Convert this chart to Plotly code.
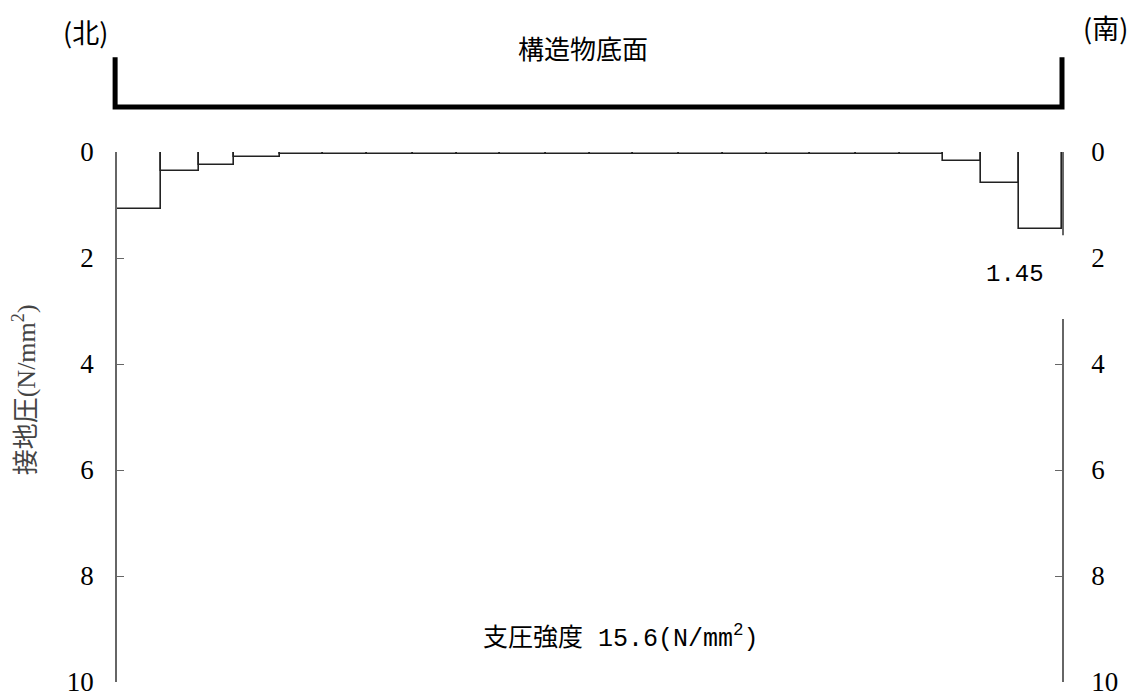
import plotly.graph_objects as go

# segment edges along the base of the structure (m, north -> south)
edges_x = [0.0, 1.0, 1.86, 2.66, 3.7, 4.68, 5.68, 6.73, 7.73, 8.7, 9.75, 10.75,
           11.73, 12.77, 13.77, 14.77, 15.75, 16.8, 17.8, 18.77, 19.64, 20.5, 21.48]
# contact pressure per segment (N/mm2)
pressure = [1.07, 0.36, 0.25, 0.10,
            0.03, 0.03, 0.03, 0.03, 0.03, 0.03, 0.03, 0.03, 0.03, 0.03, 0.03,
            0.03, 0.03, 0.03, 0.03,
            0.17, 0.59, 1.45]
y_ticks = [0, 2, 4, 6, 8, 10]
max_label = "1.45"
bearing_text = "支圧強度 15.6(N/mm<sup>2</sup>)"

centers = [(a + b) / 2 for a, b in zip(edges_x[:-1], edges_x[1:])]
widths = [b - a for a, b in zip(edges_x[:-1], edges_x[1:])]

INK = "#222222"
AXIS = "#666666"
CJK = "Noto Sans CJK JP"
SERIF = "Liberation Serif, Noto Sans CJK JP"
MONO = "Liberation Mono, Noto Sans CJK JP"

fig = go.Figure()
fig.add_trace(go.Bar(
    x=centers, y=pressure, width=widths, base=0,
    marker=dict(color="white", line=dict(color=INK, width=1.6)),
    showlegend=False, hoverinfo="skip",
))
# invisible trace for the right-hand axis
fig.add_trace(go.Scatter(x=[centers[0]], y=[0], yaxis="y2", mode="markers",
                         marker=dict(opacity=0), showlegend=False, hoverinfo="skip"))

yax = dict(range=[10, 0], tickvals=y_ticks, showline=True, linecolor=AXIS, linewidth=1.5,
           ticks="inside", ticklen=7, tickcolor=AXIS, showgrid=False, zeroline=False,
           automargin=False, tickfont=dict(family=SERIF, size=27, color="black"))


def note(text, x, y, size, family=CJK, color="black", **kw):
    return dict(text=text, xref="paper", yref="paper", x=x, y=y, xanchor="center",
                yanchor="middle", showarrow=False,
                font=dict(family=family, size=size, color=color), **kw)


fig.update_layout(
    width=1131, height=691,
    paper_bgcolor="white", plot_bgcolor="white",
    margin=dict(l=109, r=77, t=144, b=17),
    bargap=0,
    xaxis=dict(range=[edges_x[0], edges_x[-1]], visible=False),
    yaxis=dict(**yax, ticklabelstandoff=16),
    yaxis2=dict(**yax, overlaying="y", side="right", ticklabelstandoff=22),
    shapes=[
        # bracket for the structure base
        dict(type="path", xref="paper", yref="paper",
             path="M -0.002,1.179 L -0.002,1.085 L 1.0,1.085 L 1.0,1.179",
             line=dict(color="black", width=5)),
        # break in the right axis behind the max label
        dict(type="rect", xref="paper", yref="y", x0=0.985, x1=1.02, y0=1.57, y1=3.15,
             fillcolor="white", line=dict(width=0), layer="above"),
    ],
    annotations=[
        note("構造物底面", 0.493, 1.198, 26),
        note("(北)", -0.033, 1.228, 27),
        note("(南)", 1.046, 1.234, 27),
        note("接地圧(N/mm<sup>2</sup>)", -0.097, 0.551, 26, family=SERIF,
             color="#444444", textangle=-90),
        dict(text=max_label, xref="x", yref="y", x=edges_x[-1], y=pressure[-1],
             xanchor="right", yanchor="top", xshift=-16, yshift=-30,
             showarrow=False, font=dict(family=MONO, size=24, color="black")),
        dict(text=bearing_text, xref="paper", yref="y", x=0.533, y=9.15,
             xanchor="center", yanchor="middle",
             showarrow=False, font=dict(family=MONO, size=25, color="black")),
    ],
)

fig.write_html("out.html")
